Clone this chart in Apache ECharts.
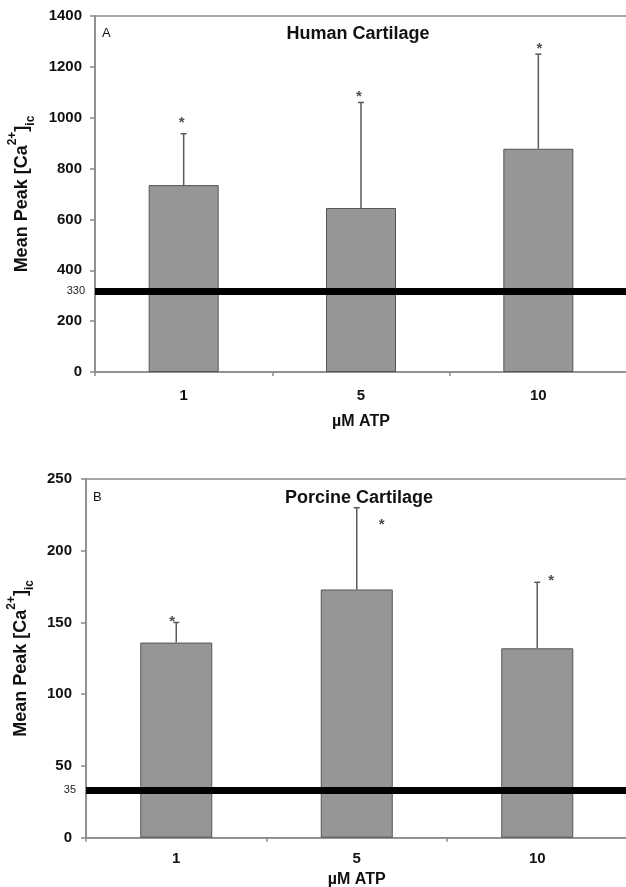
<!DOCTYPE html>
<html>
<head>
<meta charset="utf-8">
<script src="https://cdn.jsdelivr.net/npm/echarts@6/dist/echarts.min.js"></script>
<style>
html,body{margin:0;padding:0;background:#fff;}
#c{width:626px;height:887px;}
</style>
</head>
<body>
<div id="c"></div>
<script>
// ---- data ----
var categories = ['1', '5', '10'];
var humanMean = [735, 645, 878];
var humanErrTop = [937, 1060, 1250];
var humanStar = [995, 1098, 1286];
var humanThreshold = 318;
var humanThresholdLabel = '330';
var humanTicks = [0, 1400, 200];

var porcineMean = [136, 173, 132];
var porcineErrTop = [150, 230, 178];
var porcineStar = [153, 221, 182];
var porcineThreshold = 33;
var porcineThresholdLabel = '35';
var porcineTicks = [0, 250, 50];

var FONT = '"Liberation Sans", Arial, sans-serif';
var AXIS_COLOR = '#8a8a8a';

var chart = echarts.init(document.getElementById('c'), null, {renderer: 'canvas'});

function yName() {
  return '{b|Mean Peak [Ca}{sup|2+}{b|]}{sub|ic}';
}
var yNameStyle = {
  fontFamily: FONT,
  color: '#111',
  rich: {
    b: {fontSize: 18, fontWeight: 'bold', fontFamily: FONT, color: '#111', lineHeight: 30, verticalAlign: 'middle'},
    sup: {fontSize: 12, fontWeight: 'bold', fontFamily: FONT, color: '#111', lineHeight: 30, verticalAlign: 'top'},
    sub: {fontSize: 12, fontWeight: 'bold', fontFamily: FONT, color: '#111', lineHeight: 30, verticalAlign: 'bottom'}
  }
};

function errRender() {
  return function (params, api) {
    var idx = api.value(0);
    var base = api.coord([idx, api.value(1)]);
    var top = api.coord([idx, api.value(2)]);
    var cap = 3;
    return {
      type: 'group',
      children: [
        {type: 'line', shape: {x1: base[0], y1: base[1], x2: top[0], y2: top[1]},
         style: {stroke: '#5a5a5a', lineWidth: 1.5}},
        {type: 'line', shape: {x1: top[0] - cap, y1: top[1], x2: top[0] + cap, y2: top[1]},
         style: {stroke: '#5a5a5a', lineWidth: 1.5}}
      ]
    };
  };
}

function yAxis(gi, ticks, marginL, nameGap) {
  return {
    type: 'value', gridIndex: gi, min: ticks[0], max: ticks[1], interval: ticks[2],
    name: yName(), nameLocation: 'middle', nameGap: nameGap, nameRotate: 90,
    nameTextStyle: yNameStyle,
    axisLine: {show: true, lineStyle: {color: AXIS_COLOR, width: 1.5}},
    axisTick: {show: true, inside: false, length: 5, lineStyle: {color: AXIS_COLOR, width: 1.5}},
    axisLabel: {margin: marginL, fontFamily: FONT, fontWeight: 'bold', fontSize: 15, color: '#111',
                formatter: function (v) { return String(v); }},
    splitLine: {show: false}
  };
}
function xAxis(gi, lm, ng) {
  return {
    type: 'category', gridIndex: gi, data: categories,
    name: '\u00b5M ATP', nameLocation: 'middle', nameGap: ng,
    nameTextStyle: {fontFamily: FONT, fontWeight: 'bold', fontSize: 16, color: '#111', verticalAlign: 'top'},
    axisLine: {show: true, lineStyle: {color: AXIS_COLOR, width: 1.5}},
    axisTick: {show: true, alignWithLabel: false, length: 4, lineStyle: {color: AXIS_COLOR, width: 1.5}},
    axisLabel: {margin: lm, fontFamily: FONT, fontWeight: 'bold', fontSize: 15, color: '#111'},
    splitLine: {show: false}
  };
}

function series(gi, mean, errTop, star, thr, thrLabel, barW, starOffsets) {
  var errData = mean.map(function (m, i) { return [i, m, errTop[i]]; });
  var starData = star.map(function (s, i) {
    return {value: [i, s], label: {offset: starOffsets[i]}};
  });
  return [
    {
      type: 'bar', xAxisIndex: gi, yAxisIndex: gi, data: mean, barWidth: barW,
      itemStyle: {color: '#969696', borderColor: '#555', borderWidth: 1},
      z: 2,
      markLine: {
        silent: true, symbol: ['none', 'none'], z: 5,
        lineStyle: {color: '#000', width: 7, type: 'solid'},
        label: {show: true, position: 'start', distance: 10, formatter: thrLabel,
                fontFamily: FONT, fontSize: 11, color: '#222'},
        data: [{yAxis: thr}]
      }
    },
    {
      type: 'custom', xAxisIndex: gi, yAxisIndex: gi, data: errData,
      renderItem: errRender(), z: 1
    },
    {
      type: 'scatter', xAxisIndex: gi, yAxisIndex: gi, data: starData, symbolSize: 0,
      label: {show: true, position: 'inside', formatter: '*', fontFamily: FONT, fontSize: 15,
              fontWeight: 'bold', color: '#222'},
      z: 4
    }
  ];
}

var option = {
  animation: false,
  backgroundColor: '#fff',
  grid: [
    {left: 95, top: 16, width: 532, height: 356, show: true, borderColor: AXIS_COLOR, borderWidth: 1.5,
     containLabel: false, outerBoundsMode: 'none'},
    {left: 86, top: 479, width: 541.5, height: 358.7, show: true, borderColor: AXIS_COLOR, borderWidth: 1.5,
     containLabel: false, outerBoundsMode: 'none'}
  ],
  title: [
    {text: 'Human Cartilage', left: 353, top: 20, textAlign: 'center',
     textStyle: {fontFamily: FONT, fontWeight: 'bold', fontSize: 18, color: '#111'}},
    {text: 'A', left: 97, top: 22,
     textStyle: {fontFamily: FONT, fontWeight: 'normal', fontSize: 13, color: '#111'}},
    {text: 'Porcine Cartilage', left: 354, top: 484, textAlign: 'center',
     textStyle: {fontFamily: FONT, fontWeight: 'bold', fontSize: 18, color: '#111'}},
    {text: 'B', left: 88, top: 486,
     textStyle: {fontFamily: FONT, fontWeight: 'normal', fontSize: 13, color: '#111'}}
  ],
  xAxis: [xAxis(0, 16, 42), xAxis(1, 14, 34)],
  yAxis: [yAxis(0, humanTicks, 13, 58), yAxis(1, porcineTicks, 14, 48)],
  series: [].concat(
    series(0, humanMean, humanErrTop, humanStar, humanThreshold, humanThresholdLabel, 70,
           [[-2, 4], [-2, 4], [1, 4]]),
    series(1, porcineMean, porcineErrTop, porcineStar, porcineThreshold, porcineThresholdLabel, 72,
           [[-4, 4], [25, 4], [14, 4]])
  )
};
chart.setOption(option);
</script>
</body>
</html>
